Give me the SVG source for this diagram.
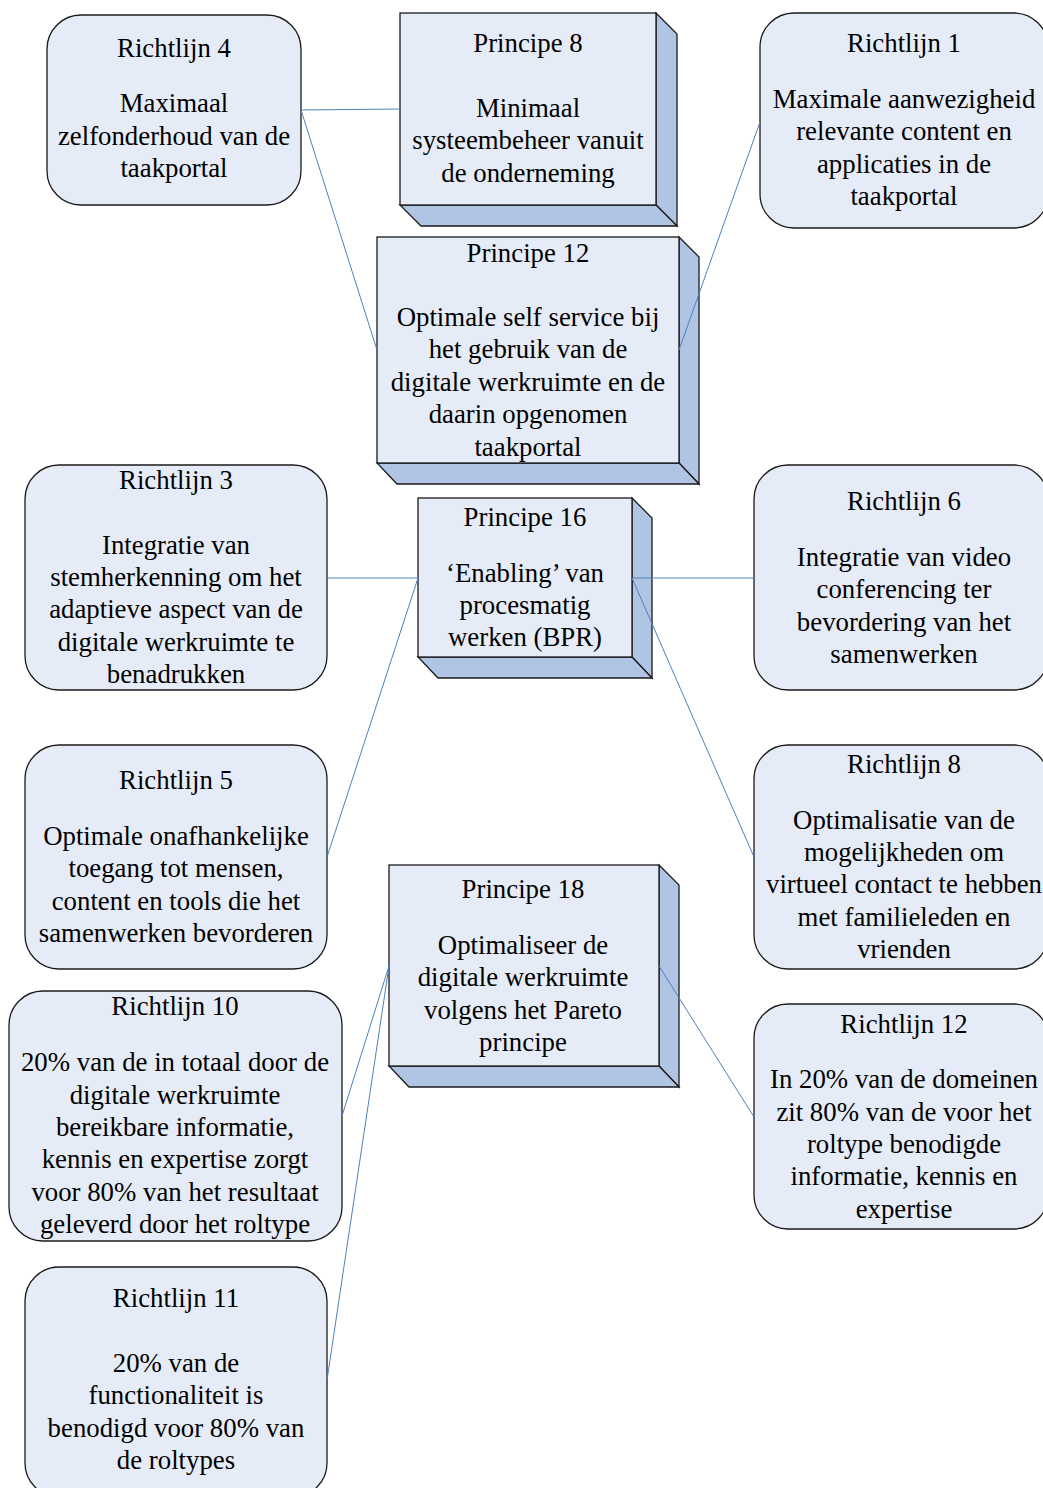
<svg xmlns="http://www.w3.org/2000/svg" width="1043" height="1488" viewBox="0 0 1043 1488">
  <style>
    .guide { fill: #e6ecf7; stroke: #1a1a1a; stroke-width: 1.3; }
    .front { fill: #e6ecf7; stroke: #1a1a1a; stroke-width: 1.3; }
    .side { fill: #b0c4e4; stroke: #1a1a1a; stroke-width: 1.3; stroke-linejoin: miter; }
    .label { font-family: "Liberation Serif", "Times New Roman", serif; font-size: 26.8px; fill: #000; text-anchor: middle; }
    .link { stroke: #4f81bd; stroke-width: 1; fill: none; }
  </style>
  <rect width="1043" height="1488" fill="#ffffff"/>

  <!-- principles (3D blocks) -->
  <g id="principe8">
    <polygon class="side" points="656,13 677,34 677,226 656,205"/>
    <polygon class="side" points="400,205 656,205 677,226 421,226"/>
    <rect class="front" x="400" y="13" width="256" height="192"/>
    <text class="label" x="528" y="52">Principe 8</text>
    <text class="label" x="528" y="117">Minimaal</text>
    <text class="label" x="528" y="149">systeembeheer vanuit</text>
    <text class="label" x="528" y="182">de onderneming</text>
  </g>

  <g id="principe12">
    <polygon class="side" points="679,237 699,257 699,484 679,463"/>
    <polygon class="side" points="377,463 679,463 699,484 397,484"/>
    <rect class="front" x="377" y="237" width="302" height="226"/>
    <text class="label" x="528" y="262">Principe 12</text>
    <text class="label" x="528" y="326">Optimale self service bij</text>
    <text class="label" x="528" y="358">het gebruik van de</text>
    <text class="label" x="528" y="391">digitale werkruimte en de</text>
    <text class="label" x="528" y="423">daarin opgenomen</text>
    <text class="label" x="528" y="456">taakportal</text>
  </g>

  <g id="principe16">
    <polygon class="side" points="632,498 652,518 652,678 632,657"/>
    <polygon class="side" points="418,657 632,657 652,678 438,678"/>
    <rect class="front" x="418" y="498" width="214" height="159"/>
    <text class="label" x="525" y="526">Principe 16</text>
    <text class="label" x="525" y="582">‘Enabling’ van</text>
    <text class="label" x="525" y="614">procesmatig</text>
    <text class="label" x="525" y="646">werken (BPR)</text>
  </g>

  <g id="principe18">
    <polygon class="side" points="659,865 679,885 679,1087 659,1066"/>
    <polygon class="side" points="389,1066 659,1066 679,1087 409,1087"/>
    <rect class="front" x="389" y="865" width="270" height="201"/>
    <text class="label" x="523" y="898">Principe 18</text>
    <text class="label" x="523" y="954">Optimaliseer de</text>
    <text class="label" x="523" y="986">digitale werkruimte</text>
    <text class="label" x="523" y="1019">volgens het Pareto</text>
    <text class="label" x="523" y="1051">principe</text>
  </g>

  <!-- guidelines (rounded boxes) -->
  <g id="richtlijn4">
    <rect class="guide" x="47" y="15" width="254" height="190" rx="34" ry="34"/>
    <text class="label" x="174" y="57">Richtlijn 4</text>
    <text class="label" x="174" y="112">Maximaal</text>
    <text class="label" x="174" y="145">zelfonderhoud van de</text>
    <text class="label" x="174" y="177">taakportal</text>
  </g>

  <g id="richtlijn1">
    <rect class="guide" x="760" y="13" width="288" height="215" rx="34" ry="34"/>
    <text class="label" x="904" y="52">Richtlijn 1</text>
    <text class="label" x="904" y="108">Maximale aanwezigheid</text>
    <text class="label" x="904" y="140">relevante content en</text>
    <text class="label" x="904" y="173">applicaties in de</text>
    <text class="label" x="904" y="205">taakportal</text>
  </g>

  <g id="richtlijn3">
    <rect class="guide" x="25" y="465" width="302" height="225" rx="34" ry="34"/>
    <text class="label" x="176" y="489">Richtlijn 3</text>
    <text class="label" x="176" y="554">Integratie van</text>
    <text class="label" x="176" y="586">stemherkenning om het</text>
    <text class="label" x="176" y="618">adaptieve aspect van de</text>
    <text class="label" x="176" y="651">digitale werkruimte te</text>
    <text class="label" x="176" y="683">benadrukken</text>
  </g>

  <g id="richtlijn6">
    <rect class="guide" x="754" y="465" width="294" height="225" rx="34" ry="34"/>
    <text class="label" x="904" y="510">Richtlijn 6</text>
    <text class="label" x="904" y="566">Integratie van video</text>
    <text class="label" x="904" y="598">conferencing ter</text>
    <text class="label" x="904" y="631">bevordering van het</text>
    <text class="label" x="904" y="663">samenwerken</text>
  </g>

  <g id="richtlijn5">
    <rect class="guide" x="25" y="745" width="302" height="224" rx="34" ry="34"/>
    <text class="label" x="176" y="789">Richtlijn 5</text>
    <text class="label" x="176" y="845">Optimale onafhankelijke</text>
    <text class="label" x="176" y="877">toegang tot mensen,</text>
    <text class="label" x="176" y="910">content en tools die het</text>
    <text class="label" x="176" y="942">samenwerken bevorderen</text>
  </g>

  <g id="richtlijn8">
    <rect class="guide" x="754" y="745" width="294" height="224" rx="34" ry="34"/>
    <text class="label" x="904" y="773">Richtlijn 8</text>
    <text class="label" x="904" y="829">Optimalisatie van de</text>
    <text class="label" x="904" y="861">mogelijkheden om</text>
    <text class="label" x="904" y="893">virtueel contact te hebben</text>
    <text class="label" x="904" y="926">met familieleden en</text>
    <text class="label" x="904" y="958">vrienden</text>
  </g>

  <g id="richtlijn10">
    <rect class="guide" x="9" y="991" width="333" height="250" rx="34" ry="34"/>
    <text class="label" x="175" y="1015">Richtlijn 10</text>
    <text class="label" x="175" y="1071">20% van de in totaal door de</text>
    <text class="label" x="175" y="1104">digitale werkruimte</text>
    <text class="label" x="175" y="1136">bereikbare informatie,</text>
    <text class="label" x="175" y="1168">kennis en expertise zorgt</text>
    <text class="label" x="175" y="1201">voor 80% van het resultaat</text>
    <text class="label" x="175" y="1233">geleverd door het roltype</text>
  </g>

  <g id="richtlijn12">
    <rect class="guide" x="754" y="1004" width="294" height="225" rx="34" ry="34"/>
    <text class="label" x="904" y="1033">Richtlijn 12</text>
    <text class="label" x="904" y="1088">In 20% van de domeinen</text>
    <text class="label" x="904" y="1121">zit 80% van de voor het</text>
    <text class="label" x="904" y="1153">roltype benodigde</text>
    <text class="label" x="904" y="1185">informatie, kennis en</text>
    <text class="label" x="904" y="1218">expertise</text>
  </g>

  <g id="richtlijn11">
    <rect class="guide" x="25" y="1267" width="302" height="230" rx="34" ry="34"/>
    <text class="label" x="176" y="1307">Richtlijn 11</text>
    <text class="label" x="176" y="1372">20% van de</text>
    <text class="label" x="176" y="1404">functionaliteit is</text>
    <text class="label" x="176" y="1437">benodigd voor 80% van</text>
    <text class="label" x="176" y="1469">de roltypes</text>
  </g>

  <!-- connectors, drawn over the block side faces -->
  <g id="connectors">
    <line class="link" x1="301" y1="110" x2="400" y2="109"/>
    <line class="link" x1="301" y1="110" x2="377" y2="350"/>
    <line class="link" x1="760" y1="122" x2="679" y2="350"/>
    <line class="link" x1="327" y1="578" x2="418" y2="578"/>
    <line class="link" x1="327" y1="857" x2="418" y2="578"/>
    <line class="link" x1="632" y1="578" x2="754" y2="578"/>
    <line class="link" x1="632" y1="578" x2="754" y2="857"/>
    <line class="link" x1="389" y1="966" x2="342" y2="1116"/>
    <line class="link" x1="389" y1="966" x2="327" y2="1380"/>
    <line class="link" x1="659" y1="966" x2="754" y2="1117"/>
  </g>
</svg>
